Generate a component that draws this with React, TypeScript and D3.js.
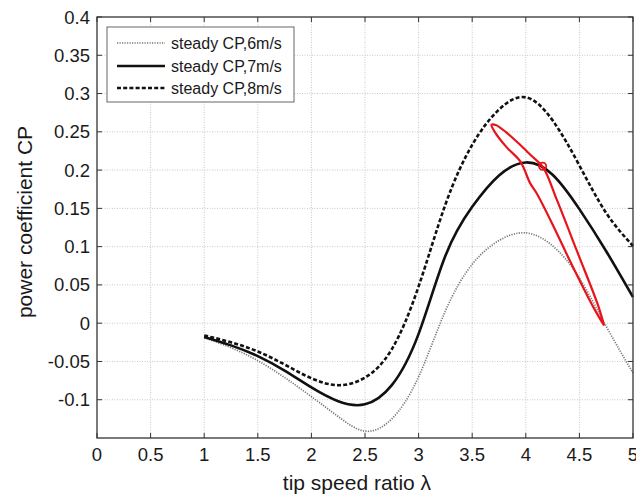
import React from "react";
import * as d3 from "d3";

const lambdaValues = [1.0, 1.25, 1.5, 1.75, 2.0, 2.25, 2.5, 2.75, 3.0, 3.25, 3.5, 3.75, 4.0, 4.25, 4.5, 4.75, 5.0];
const cp6 = [-0.019, -0.032, -0.049, -0.071, -0.096, -0.122, -0.141, -0.125, -0.07, 0.016, 0.077, 0.108, 0.118, 0.101, 0.059, -0.004, -0.065];
const cp7 = [-0.018, -0.029, -0.043, -0.062, -0.084, -0.102, -0.106, -0.081, -0.014, 0.088, 0.152, 0.193, 0.21, 0.194, 0.149, 0.094, 0.034];
const cp8 = [-0.016, -0.025, -0.037, -0.054, -0.072, -0.081, -0.071, -0.034, 0.048, 0.155, 0.233, 0.279, 0.295, 0.265, 0.206, 0.144, 0.101];

const loopLambda = [4.73, 4.63, 4.41, 4.26, 4.1, 4.04, 3.95, 3.82, 3.71, 3.68, 3.72, 3.82, 3.94, 4.05, 4.16, 4.29, 4.475, 4.68, 4.73];
const loopCp = [-0.003, 0.021, 0.082, 0.126, 0.17, 0.183, 0.211, 0.23, 0.25, 0.259, 0.259, 0.249, 0.234, 0.219, 0.204, 0.161, 0.095, 0.021, -0.003];
const markerPoint = [4.157, 0.205];

const xTicks = [0, 0.5, 1, 1.5, 2, 2.5, 3, 3.5, 4, 4.5, 5];
const xTickLabels = ["0", "0.5", "1", "1.5", "2", "2.5", "3", "3.5", "4", "4.5", "5"];
const yTicks = [0.4, 0.35, 0.3, 0.25, 0.2, 0.15, 0.1, 0.05, 0, -0.05, -0.1];
const yTickLabels = ["0.4", "0.35", "0.3", "0.25", "0.2", "0.15", "0.1", "0.05", "0", "-0.05", "-0.1"];
const legendLabels = ["steady CP,6m/s", "steady CP,7m/s", "steady CP,8m/s"];

const W = 636;
const H = 498;
const L = 97, R = 633, T = 17, B = 438;
const FONT = "'Liberation Sans', Arial, sans-serif";

export default function App() {
  const x = d3.scaleLinear().domain([0, 5]).range([L, R]);
  const y = d3.scaleLinear().domain([-0.15, 0.4]).range([B, T]);

  const curveLine = d3
    .line<[number, number]>()
    .x((d) => x(d[0]))
    .y((d) => y(d[1]))
    .curve(d3.curveNatural);

  const loopLine = d3
    .line<[number, number]>()
    .x((d) => x(d[0]))
    .y((d) => y(d[1]))
    .curve(d3.curveCatmullRom.alpha(0.5));

  const s6 = curveLine(lambdaValues.map((l, i) => [l, cp6[i]] as [number, number])) || "";
  const s7 = curveLine(lambdaValues.map((l, i) => [l, cp7[i]] as [number, number])) || "";
  const s8 = curveLine(lambdaValues.map((l, i) => [l, cp8[i]] as [number, number])) || "";
  const loop = loopLine(loopLambda.map((l, i) => [l, loopCp[i]] as [number, number])) || "";

  const styles = [
    { stroke: "#777", width: 1.7, dash: "1.2,1.3" },
    { stroke: "#111", width: 2.6, dash: "none" },
    { stroke: "#111", width: 2.6, dash: "4,2.2" },
  ];

  const legX = 107, legY = 27, legW = 187, legH = 75;
  const rowY = [43, 66, 88];

  return (
    <svg
      width={W}
      height={H}
      style={{ position: "absolute", left: 0, top: 0, background: "#fff" }}
      fontFamily={FONT}
    >
      <rect x={0} y={0} width={W} height={H} fill="#fff" />
      {/* grid */}
      {xTicks.slice(1, -1).map((t) => (
        <line key={"gx" + t} x1={x(t)} x2={x(t)} y1={T} y2={B} stroke="#c8c8c8" strokeWidth={1} strokeDasharray="1,1.5" />
      ))}
      {yTicks.slice(1).map((t) => (
        <line key={"gy" + t} x1={L} x2={R} y1={y(t)} y2={y(t)} stroke="#c8c8c8" strokeWidth={1} strokeDasharray="1,1.5" />
      ))}
      {/* ticks inside, all sides */}
      {xTicks.map((t) => (
        <g key={"tx" + t}>
          <line x1={x(t)} x2={x(t)} y1={B} y2={B - 5} stroke="#333" strokeWidth={1} />
          <line x1={x(t)} x2={x(t)} y1={T} y2={T + 5} stroke="#333" strokeWidth={1} />
        </g>
      ))}
      {yTicks.map((t) => (
        <g key={"ty" + t}>
          <line x1={L} x2={L + 5} y1={y(t)} y2={y(t)} stroke="#333" strokeWidth={1} />
          <line x1={R} x2={R - 5} y1={y(t)} y2={y(t)} stroke="#333" strokeWidth={1} />
        </g>
      ))}
      {/* curves */}
      <path d={s6} fill="none" stroke={styles[0].stroke} strokeWidth={styles[0].width} strokeDasharray={styles[0].dash} />
      <path d={s7} fill="none" stroke={styles[1].stroke} strokeWidth={styles[1].width} />
      <path d={s8} fill="none" stroke={styles[2].stroke} strokeWidth={styles[2].width} strokeDasharray={styles[2].dash} />
      <path d={loop} fill="none" stroke="#e8141c" strokeWidth={2.2} strokeLinejoin="round" />
      <circle cx={x(markerPoint[0])} cy={y(markerPoint[1])} r={3.6} fill="none" stroke="#e8141c" strokeWidth={1.8} />
      {/* frame */}
      <rect x={L} y={T} width={R - L} height={B - T} fill="none" stroke="#333" strokeWidth={1.3} />
      {/* tick labels */}
      {xTicks.map((t, i) => (
        <text key={"xl" + t} x={x(t)} y={461} textAnchor="middle" fontSize={18.5} fill="#1a1a1a">
          {xTickLabels[i]}
        </text>
      ))}
      {yTicks.map((t, i) => (
        <text key={"yl" + t} x={90} y={y(t) + 6.5} textAnchor="end" fontSize={18.5} fill="#1a1a1a">
          {yTickLabels[i]}
        </text>
      ))}
      {/* axis labels */}
      <text x={357} y={490} textAnchor="middle" fontSize={21} fill="#1a1a1a">
        tip speed ratio λ
      </text>
      <text transform={`translate(32,222) rotate(-90)`} textAnchor="middle" fontSize={21} fill="#1a1a1a">
        power coefficient CP
      </text>
      {/* legend */}
      <rect x={legX} y={legY} width={legW} height={legH} fill="#fff" stroke="#666" strokeWidth={1} />
      {legendLabels.map((lab, i) => (
        <g key={lab}>
          <line x1={117} x2={165} y1={rowY[i]} y2={rowY[i]} stroke={styles[i].stroke} strokeWidth={styles[i].width} strokeDasharray={styles[i].dash} />
          <text x={171} y={rowY[i] + 5.5} fontSize={16} fill="#1a1a1a">
            {lab}
          </text>
        </g>
      ))}
    </svg>
  );
}
